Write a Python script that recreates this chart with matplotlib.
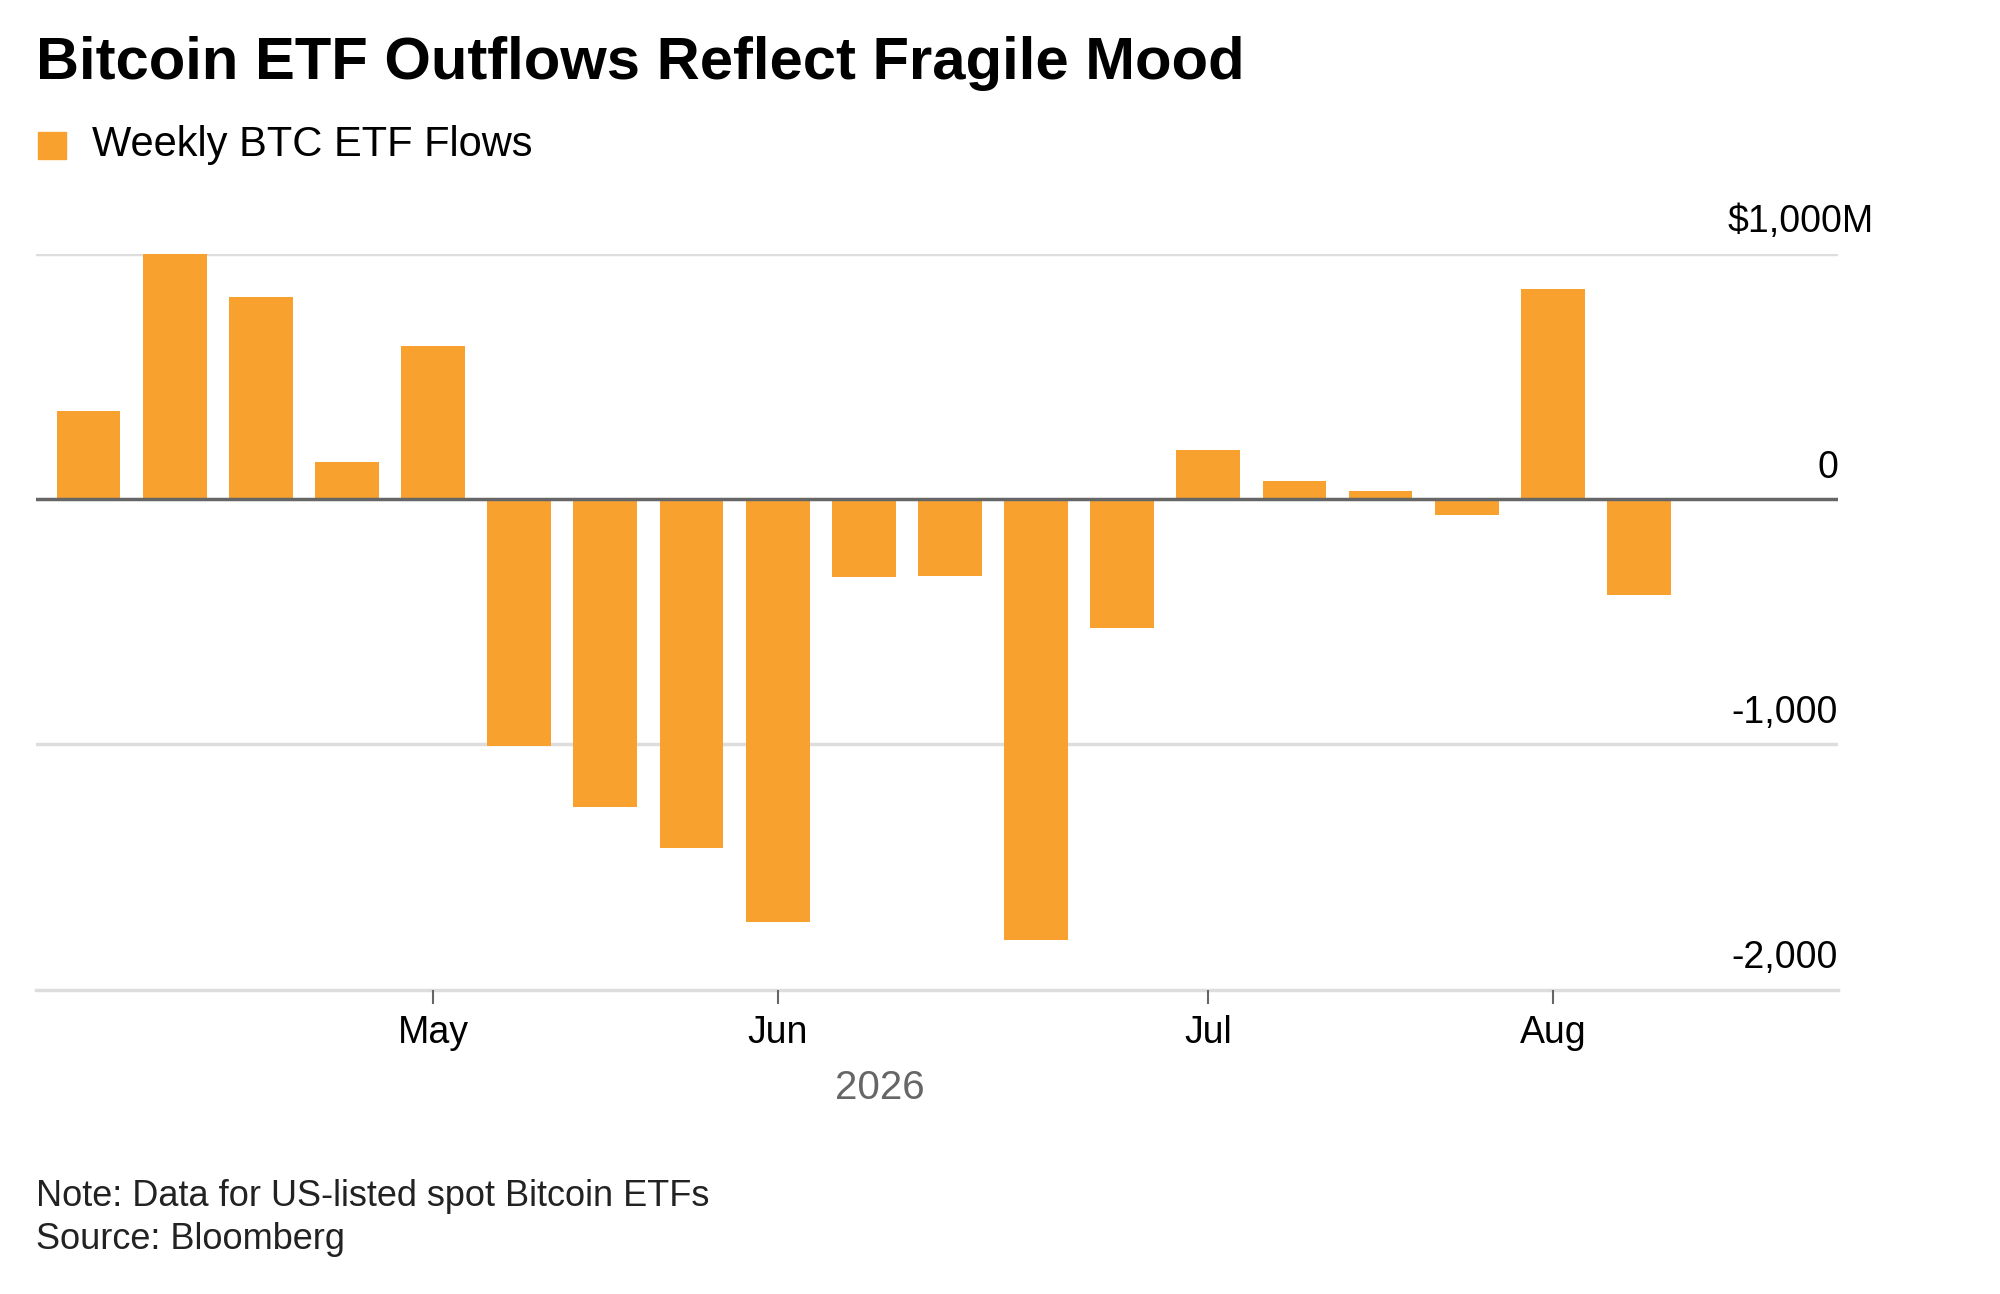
import matplotlib
matplotlib.use("Agg")
import matplotlib.pyplot as plt
import numpy as np

values = [359, 1000, 823, 151, 625, -1005, -1255, -1422, -1724, -318, -313, -1797, -526, 198, 73, 31, -63, 854, -391]
month_labels = ["May", "Jun", "Jul", "Aug"]
month_idx = [4, 8, 13, 17]
yticks = [1000, 0, -1000, -2000]
ylabels = ["$1,000M", "0", "-1,000", "-2,000"]
color = "#F9A12E"

plt.rcParams['font.family'] = ['Liberation Sans', 'DejaVu Sans']
fig = plt.figure(figsize=(20, 12.94), dpi=100)
ax = fig.add_axes([0.018, 0.235, 0.901, 0.569])
x = np.arange(len(values))
ax.bar(x, values, width=0.74, color=color, zorder=3)
ax.set_xlim(-0.61, 20.31)
ax.set_ylim(-2000, 1000)
for v in [1000, -1000]:
    ax.axhline(v, color="#dddddd", lw=2.5, zorder=1)
ax.axhline(0, color="#666666", lw=2.5, zorder=4)
ax.axhline(-2000, color="#dddddd", lw=2.5, zorder=1, clip_on=False)
for s in ax.spines.values():
    s.set_visible(False)
ax.set_yticks([])
for v, l in zip(yticks, ylabels):
    xpos = 1.02 if v == 1000 else 1.0
    ax.text(xpos, v + 55, l, transform=ax.get_yaxis_transform(), ha="right", va="bottom", fontsize=27)
ax.set_xticks(month_idx)
ax.set_xticklabels(month_labels, fontsize=27)
ax.tick_params(axis="x", length=10, width=1.5, color="#666666", pad=8)
fig.text(0.44, 0.159, "2026", ha="center", va="center", fontsize=29, color="#666666")
fig.text(0.018, 0.951, "Bitcoin ETF Outflows Reflect Fragile Mood", fontsize=43, fontweight="bold", va="center")
fig.patches.append(plt.Rectangle((0.019, 0.877), 0.014, 0.021, transform=fig.transFigure, color=color))
fig.text(0.046, 0.888, "Weekly BTC ETF Flows", fontsize=30, va="center")
fig.text(0.018, 0.075, "Note: Data for US-listed spot Bitcoin ETFs", fontsize=26, va="center", color="#222222")
fig.text(0.018, 0.042, "Source: Bloomberg", fontsize=26, va="center", color="#222222")
fig.savefig("out.png", dpi=100, facecolor="white")
